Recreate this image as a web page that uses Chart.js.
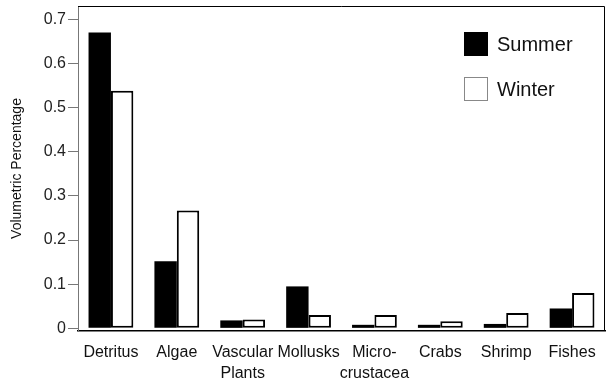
<!DOCTYPE html>
<html>
<head>
<meta charset="utf-8">
<script src="https://cdn.jsdelivr.net/npm/chart.js@4.4.1/dist/chart.umd.min.js"></script>
<style>
  html, body { margin: 0; padding: 0; background: #fff; }
  #wrap { width: 611px; height: 383px; }
</style>
</head>
<body>
<div id="wrap"><canvas id="chart" width="611" height="383"></canvas></div>
<script>
// Data
const categories = ["Detritus", "Algae", ["Vascular", "Plants"], "Mollusks", ["Micro-", "crustacea"], "Crabs", "Shrimp", "Fishes"];
const summer = [0.67, 0.152, 0.018, 0.095, 0.008, 0.008, 0.01, 0.045];
const winter = [0.538, 0.267, 0.02, 0.03, 0.03, 0.016, 0.035, 0.08];
const yTicks = [0, 0.1, 0.2, 0.3, 0.4, 0.5, 0.6, 0.7];

const FONT = "'Liberation Sans', Arial, sans-serif";

// top + right frame of the plot
const framePlugin = {
    id: "frame",
    afterDraw(chart) {
        const { ctx, chartArea: a } = chart;
        ctx.save();
        ctx.strokeStyle = "#000";
        ctx.lineWidth = 1;
        ctx.beginPath();
        ctx.moveTo(a.left, a.top + 0.5);
        ctx.lineTo(a.right - 0.5, a.top + 0.5);
        ctx.lineTo(a.right - 0.5, a.bottom);
        ctx.stroke();
        ctx.restore();
    }
};

// legend drawn inside the plot, top right
const legendPlugin = {
    id: "insideLegend",
    afterDraw(chart) {
        const ctx = chart.ctx;
        ctx.save();
        ctx.font = "20px " + FONT;
        ctx.textBaseline = "middle";
        chart.data.datasets.forEach((ds, i) => {
            const x = 464, y = 32 + i * 45, s = 24;
            ctx.fillStyle = ds.backgroundColor;
            ctx.fillRect(x, y, s, s);
            ctx.strokeStyle = i === 0 ? "#000" : "#888";
            ctx.lineWidth = 1;
            ctx.strokeRect(x + 0.5, y + 0.5, s - 1, s - 1);
            ctx.fillStyle = "#111";
            ctx.fillText(ds.label, 497, y + s / 2 + 1);
        });
        ctx.restore();
    }
};

new Chart(document.getElementById("chart"), {
    type: "bar",
    data: {
        labels: categories,
        datasets: [
            { label: "Summer", data: summer, backgroundColor: "#000", borderColor: "#000", borderWidth: 0 },
            { label: "Winter", data: winter, backgroundColor: "#fff", borderColor: "#000", borderWidth: 2, borderSkipped: false }
        ]
    },
    options: {
        responsive: false,
        animation: false,
        layout: { padding: { top: 6, right: 6, left: 0, bottom: 0 } },
        datasets: { bar: { barPercentage: 1, categoryPercentage: 0.68 } },
        plugins: { legend: { display: false }, tooltip: { enabled: false } },
        scales: {
            x: {
                grid: { display: false },
                border: { display: true, color: "#000", width: 1.5 },
                ticks: { color: "#111", font: { family: FONT, size: 16, lineHeight: 1.3 }, padding: 3, maxRotation: 0, autoSkip: false },
                afterFit(scale) { scale.height = 52; }
            },
            y: {
                min: -0.006,
                max: 0.73,
                afterBuildTicks(scale) { scale.ticks = yTicks.map(v => ({ value: v })); },
                grid: { drawOnChartArea: false, drawTicks: true, tickLength: 10, color: "#777" },
                border: { display: true, color: "#777", width: 1 },
                ticks: { color: "#222", font: { family: FONT, size: 16 }, padding: 2, callback: v => String(v) },
                title: { display: true, text: "Volumetric Percentage", color: "#111", font: { family: FONT, size: 14 }, padding: { top: 9, bottom: 0 } },
                afterFit(scale) { scale.width = 78; scale.paddingTop = 0; scale.paddingBottom = 0; }
            }
        }
    },
    plugins: [framePlugin, legendPlugin]
});
</script>
</body>
</html>
